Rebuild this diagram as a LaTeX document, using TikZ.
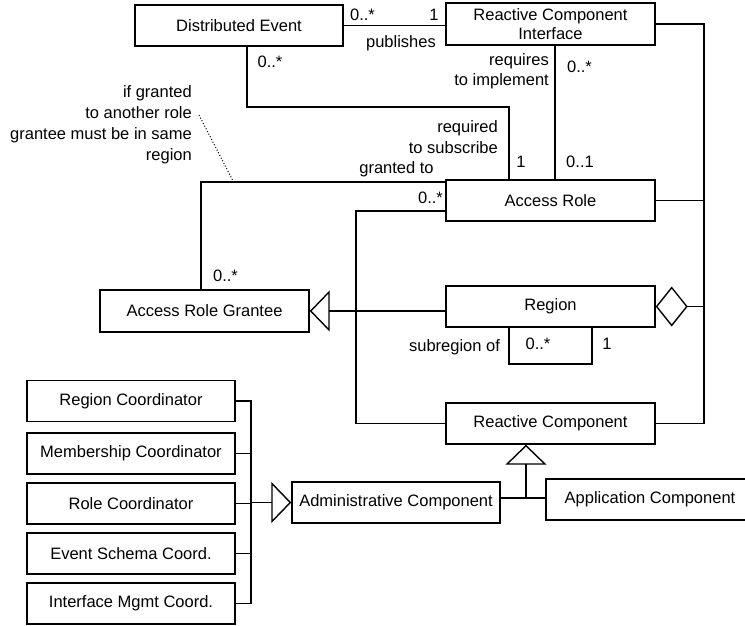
\documentclass[tikz,border=0pt]{standalone}
\usepackage{fontspec}
\setmainfont{Liberation Sans}
\usetikzlibrary{arrows.meta,calc}

\tikzset{
  umlbox/.style={draw, line width=1.4pt, rectangle, inner sep=0pt,
    minimum width=208pt, minimum height=41pt, align=center,
    font=\fontsize{16.5}{20}\selectfont},
  lbl/.style={inner sep=0pt, font=\fontsize{16.5}{20}\selectfont},
  link/.style={line width=1.4pt},
  gen/.style={line width=1.4pt, -{Triangle[open, length=20pt, width=41pt, line width=1.4pt]}},
  agg/.style={line width=1.4pt, {Diamond[open, length=32pt, width=40pt, line width=1.4pt]}-},
}

\begin{document}
\begin{tikzpicture}[x=1pt, y=-1pt]
\useasboundingbox (0,0) rectangle (745,625);

% classes
\node[umlbox] (DE)  at (239,25.5)  {Distributed Event};
\node[umlbox, minimum width=209pt, minimum height=42pt] (RCI) at (550.5,24) {Reactive Component\\[-1.5pt]Interface};
\node[umlbox, minimum width=209pt] (AR)  at (550.5,200.5) {Access Role};
\node[umlbox, minimum width=209pt] (Reg) at (550.5,306.5) {Region};
\node[umlbox, minimum width=209pt] (RC)  at (550.5,423.5) {Reactive Component};
\node[umlbox, minimum width=209pt, minimum height=42pt] (ARG) at (204.5,311) {Access Role Grantee};

\node[umlbox] (RegC)  at (131,401)   {Region Coordinator};
\node[umlbox] (MemC)  at (131,453.5) {Membership Coordinator};
\node[umlbox] (RoleC) at (131,503.5) {Role Coordinator};
\node[umlbox] (EvC)   at (131,553.5) {Event Schema Coord.};
\node[umlbox] (IfC)   at (131,603.5) {Interface Mgmt Coord.};

\node[umlbox] (Adm) at (396,502.5) {Administrative Component};
\node[umlbox] (App) at (650,499.5) {Application Component};

% routing points
\coordinate (rbus) at (704,0);
\coordinate (lbus) at (356,0);
\coordinate (sub)  at (509,107);
\coordinate (loopL) at (509,364);
\coordinate (loopR) at (592,364);
\coordinate (cbus) at (251,0);
\coordinate (jn)   at (526,498);

% publishes
\draw[link] (DE.east) -- (DE.east -| RCI.west);
\node[lbl] at (362.5,15) {0..*};
\node[lbl] at (434,15) {1};
\node[lbl] at (401,43) {publishes};

% required to subscribe
\draw[link] ([xshift=8pt]DE.south) |- (sub) -- (sub |- AR.north);
\node[lbl] at (270,62) {0..*};
\node[lbl, align=right, anchor=east] at (498,137.5) {required\\[1pt]to subscribe};
\node[lbl] at (521,162) {1};

% requires to implement
\draw[link] ([xshift=4.5pt]RCI.south) -- ([xshift=4.5pt]AR.north);
\node[lbl, align=right, anchor=east] at (549,71.5) {requires\\to implement};
\node[lbl] at (579.5,67) {0..*};
\node[lbl] at (580,162) {0..1};

% granted to
\draw[link] ([xshift=-3.5pt]ARG.north) |- ([yshift=18.5pt]AR.west);
\node[lbl] at (396.5,169) {granted to};
\node[lbl] at (225.5,276) {0..*};

% constraint note
\node[lbl, align=right, anchor=east, font=\fontsize{16.5}{21}\selectfont] (note) at (192,125) {if granted\\to another role\\grantee must be in same\\region};
\coordinate (nt) at (199,115);
\coordinate (ng) at (233,181);
\draw[dotted, line width=1pt] (nt) -- (ng);

% access role to reactive component
\draw[link] ([yshift=-10.5pt]AR.west) -- ([yshift=-10.5pt]AR.west -| lbus) |- (RC.west);
\node[lbl] at (430.5,198) {0..*};

% right-hand bus
\draw[link] (RCI.east) -- (RCI.east -| rbus) -- (RC.east -| rbus) -- (RC.east);
\draw[link] (AR.east) -- (AR.east -| rbus);
\draw[agg] (Reg.east) -- (Reg.east -| rbus);

% region generalizes access role grantee
\draw[gen] (Reg.west |- ARG.east) -- (ARG.east);

% subregion association
\draw[link] (Reg.south -| loopL) -- (loopL) -- (loopR) -- (Reg.south -| loopR);
\node[lbl] at (454.5,347) {subregion of};
\node[lbl] at (538,344) {0..*};
\node[lbl] at (607,344) {1};

% coordinators specialize administrative component
\draw[link] (RegC.east) -- (RegC.east -| cbus) -- (IfC.east -| cbus) -- (IfC.east);
\draw[link] (MemC.east) -- (MemC.east -| cbus);
\draw[link] (RoleC.east) -- (RoleC.east -| cbus);
\draw[link] (EvC.east) -- (EvC.east -| cbus);
\draw[gen] (Adm.west -| cbus) -- (Adm.west);

% components specialize reactive component
\draw[link] (Adm.east |- jn) -- (App.west |- jn);
\draw[gen] (jn) -- (jn |- RC.south);
\end{tikzpicture}
\end{document}
